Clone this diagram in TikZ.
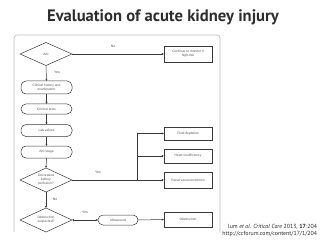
\documentclass[tikz,border=0pt]{standalone}
\usepackage{fontspec}
\setmainfont{Liberation Sans}
\newfontfamily\titlefont{PT Sans}
\usetikzlibrary{shapes.geometric,arrows.meta}
\definecolor{linec}{HTML}{3A3A3A}
\definecolor{framec}{HTML}{BDBDBD}
\definecolor{txtc}{HTML}{555555}
\definecolor{titlec}{HTML}{2E2E2E}
\tikzset{
  every node/.style={inner sep=0pt, outer sep=0pt},
  boxnode/.style={draw=linec, line width=0.5pt, fill=white, rectangle, minimum width=48pt, align=center, font=\fontsize{3.3}{3.9}\selectfont, text=txtc},
  pillnode/.style={draw=linec, line width=0.5pt, fill=white, rectangle, rounded corners=5pt, minimum width=51pt, align=center, font=\fontsize{3.3}{3.9}\selectfont, text=txtc},
  decnode/.style={draw=linec, line width=0.5pt, fill=white, diamond, aspect=2.2, minimum width=52pt, minimum height=23pt, align=center, font=\fontsize{3.3}{3.9}\selectfont, text=txtc},
  lab/.style={font=\fontsize{3.5}{4}\selectfont, text=txtc},
  conn/.style={draw=linec, line width=0.5pt, -{Latex[length=2.2pt,width=2.2pt]}},
  plainconn/.style={draw=linec, line width=0.5pt},
}
\begin{document}
\begin{tikzpicture}[x=1pt,y=-1pt]
\useasboundingbox (0,0) rectangle (320,240);
\fill[white] (0,0) rectangle (320,240);
% title
\node[font=\titlefont\bfseries\fontsize{16.6}{19}\selectfont, text=titlec] (title) at (163,17) {Evaluation of acute kidney injury};
% frame
\draw[framec, line width=0.6pt, rounded corners=3pt] (14,232) -- (14,35) -- (220,35) -- (220,232);
% nodes
\node[decnode] (aki) at (46,54) {AKI};
\node[boxnode, minimum height=16pt] (cont) at (188,54) {Continue to monitor if\\high-risk};
\node[pillnode, minimum height=13pt] (hist) at (46.5,87.5) {Clinical history and\\examination};
\node[pillnode, minimum height=10pt] (tests) at (46.5,109) {Clinical tests};
\node[pillnode, minimum height=12pt] (labv) at (46.5,130.5) {Lab values};
\node[pillnode, minimum height=12pt] (stage) at (46.5,152) {AKI stage};
\node[decnode, minimum height=24pt] (perf) at (46,180) {Decreased\\kidney\\perfusion?};
\node[decnode, minimum height=24pt] (obs) at (46,220) {Obstruction\\suspected?};
\node[pillnode, minimum width=40pt, minimum height=10pt] (us) at (118,220) {Ultrasound};
\node[boxnode, minimum height=13pt] (fluid) at (188,133.5) {Fluid depletion};
\node[boxnode, minimum height=14pt] (heart) at (188,156) {Heart insufficiency};
\node[boxnode, minimum height=16pt] (renal) at (188,180) {Renal vasoconstriction};
\node[boxnode, minimum height=15pt] (obst) at (188,219.5) {Obstruction};
\coordinate (br) at (137,180);
\coordinate (brtop) at (137,133.5);
\coordinate (brmid) at (137,156);
% connectors
\draw[conn] (aki.east) -- (cont.west);
\draw[conn] (aki.south) -- (hist.north);
\draw[conn] (hist.south) -- (tests.north);
\draw[conn] (tests.south) -- (labv.north);
\draw[conn] (labv.south) -- (stage.north);
\draw[conn] (stage.south) -- (perf.north);
\draw[plainconn] (perf.east) -- (br);
\draw[plainconn] (br) -- (brtop);
\draw[conn] (brtop) -- (fluid.west);
\draw[conn] (brmid) -- (heart.west);
\draw[conn] (br) -- (renal.west);
\draw[conn] (perf.south) -- (obs.north);
\draw[conn, {Latex[length=2.2pt,width=2.2pt]}-{Latex[length=2.2pt,width=2.2pt]}] (obs.east) -- (us.west);
\draw[conn] (us.east) -- (obst.west);
% labels
\node[lab] (lno1) at (113,46) {No};
\node[lab] (lyes1) at (57,72) {Yes};
\node[lab] (lyes2) at (98,172) {Yes};
\node[lab] (lno2) at (55,199) {No};
\node[lab] (lyes3) at (85,212) {Yes};
% citation
\node[font=\titlefont\fontsize{5.9}{6.8}\selectfont, text=titlec, anchor=east] (cit1) at (317,227) {lum \textit{et al. Critical Care} 2013, \textbf{17}:204};
\node[font=\titlefont\fontsize{5.9}{6.8}\selectfont, text=titlec, anchor=east] (cit2) at (317,234) {http://ccforum.com/content/17/1/204};
\end{tikzpicture}
\end{document}
